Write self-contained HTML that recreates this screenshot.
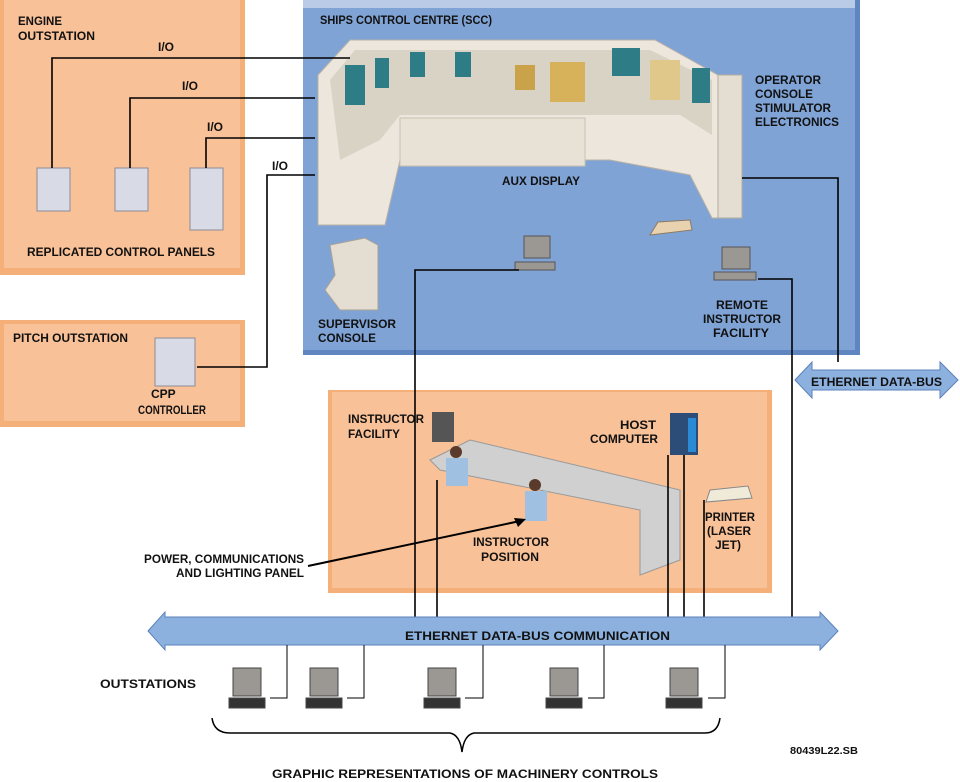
<!DOCTYPE html>
<html><head><meta charset="utf-8"><style>
body{margin:0;background:#fff}
svg{display:block}
text{font-family:"Liberation Sans",sans-serif;font-weight:bold;font-size:12px;fill:#111}
</style></head><body>
<svg width="960" height="782" viewBox="0 0 960 782">
<!-- Engine outstation -->
<rect x="0" y="0" width="245" height="275" fill="#f5b07a"/>
<rect x="4" y="0" width="236" height="268" fill="#f9c197"/>
<text x="18" y="25" textLength="44" lengthAdjust="spacingAndGlyphs">ENGINE</text><text x="18" y="40" textLength="77" lengthAdjust="spacingAndGlyphs">OUTSTATION</text>
<text x="27" y="256" textLength="188" lengthAdjust="spacingAndGlyphs">REPLICATED CONTROL PANELS</text>
<!-- Pitch -->
<rect x="0" y="320" width="245" height="107" fill="#f5b07a"/>
<rect x="4" y="324" width="236" height="97" fill="#f9c197"/>
<text x="13" y="342" textLength="115" lengthAdjust="spacingAndGlyphs">PITCH OUTSTATION</text>
<text x="151" y="398">CPP</text><text x="138" y="414" textLength="68" lengthAdjust="spacingAndGlyphs">CONTROLLER</text>
<!-- SCC -->
<rect x="303" y="0" width="557" height="355" fill="#5f86c0"/>
<rect x="303" y="0" width="552" height="350" fill="#80a3d6"/>
<rect x="303" y="0" width="552" height="8" fill="#b9cbe6"/>
<text x="320" y="24" textLength="172" lengthAdjust="spacingAndGlyphs">SHIPS CONTROL CENTRE (SCC)</text>
<text x="755" y="84" textLength="66" lengthAdjust="spacingAndGlyphs">OPERATOR</text><text x="755" y="98" textLength="58" lengthAdjust="spacingAndGlyphs">CONSOLE</text>
<text x="755" y="112" textLength="76" lengthAdjust="spacingAndGlyphs">STIMULATOR</text><text x="755" y="126" textLength="84" lengthAdjust="spacingAndGlyphs">ELECTRONICS</text>
<text x="502" y="185" textLength="78" lengthAdjust="spacingAndGlyphs">AUX DISPLAY</text>
<!-- console -->
<polygon points="318,75 350,40 655,40 718,75 742,75 742,218 712,218 690,175 610,160 400,160 385,225 318,225" fill="#ece6dc" stroke="#b9b1a6"/>
<polygon points="330,80 355,50 650,50 712,80 712,135 680,115 400,115 380,140 340,160" fill="#d9d3c6"/>
<rect x="400" y="118" width="185" height="48" fill="#e8e2d6" stroke="#c8c0b2"/>
<rect x="718" y="75" width="24" height="143" fill="#e4ddd2" stroke="#b5ad9f"/>
<rect x="345" y="65" width="20" height="40" fill="#2e7d86"/><rect x="375" y="58" width="14" height="30" fill="#2e7d86"/>
<rect x="410" y="52" width="15" height="25" fill="#2e7d86"/><rect x="455" y="52" width="16" height="25" fill="#2e7d86"/>
<rect x="612" y="48" width="28" height="28" fill="#2e7d86"/><rect x="692" y="68" width="18" height="35" fill="#2e7d86"/>
<rect x="550" y="62" width="35" height="40" fill="#d8b25a"/><rect x="515" y="65" width="20" height="25" fill="#c9a24a"/>
<rect x="650" y="60" width="30" height="40" fill="#e0c88a"/>
<!-- supervisor console -->
<polygon points="330,245 365,238 378,245 378,310 340,310 325,290 335,275" fill="#e4ddd2" stroke="#a9a196"/>
<text x="318" y="328" textLength="78" lengthAdjust="spacingAndGlyphs">SUPERVISOR</text><text x="318" y="342" textLength="58" lengthAdjust="spacingAndGlyphs">CONSOLE</text>
<text x="716" y="309" textLength="52" lengthAdjust="spacingAndGlyphs">REMOTE</text><text x="703" y="323" textLength="78" lengthAdjust="spacingAndGlyphs">INSTRUCTOR</text><text x="713" y="337" textLength="56" lengthAdjust="spacingAndGlyphs">FACILITY</text>
<!-- printer in SCC -->
<polygon points="658,222 690,220 692,230 650,235" fill="#e9d2b0" stroke="#8c7a62"/>
<!-- computers SCC -->
<g fill="#9b9894" stroke="#555">
<rect x="524" y="236" width="26" height="22"/><rect x="515" y="262" width="40" height="8"/>
<rect x="722" y="247" width="28" height="22"/><rect x="714" y="272" width="42" height="8"/>
</g>
<!-- Ethernet data-bus right -->
<polygon points="795,380 812,362 812,370 940,370 940,362 958,380 940,398 940,390 812,390 812,398" fill="#8db1de" stroke="#5a82bb"/>
<text x="811" y="386" textLength="131" lengthAdjust="spacingAndGlyphs">ETHERNET DATA-BUS</text>
<!-- Instructor room -->
<rect x="328" y="390" width="444" height="203" fill="#f5b07a"/>
<rect x="332" y="392" width="435" height="196" fill="#f9c197"/>
<text x="348" y="423" textLength="76" lengthAdjust="spacingAndGlyphs">INSTRUCTOR</text><text x="348" y="438" textLength="52" lengthAdjust="spacingAndGlyphs">FACILITY</text>
<polygon points="430,460 470,440 680,490 680,560 640,575 640,510 440,470" fill="#d0d0d0" stroke="#999"/>
<rect x="432" y="412" width="22" height="30" fill="#555"/>
<rect x="670" y="413" width="28" height="42" fill="#2c4d78"/><rect x="688" y="418" width="8" height="34" fill="#2b8ad4"/>
<polygon points="710,490 748,486 752,498 706,502" fill="#f0ead8" stroke="#888"/>
<circle cx="456" cy="452" r="6" fill="#5a3a2a"/><rect x="446" y="458" width="22" height="28" fill="#9fc0e0"/>
<circle cx="535" cy="485" r="6" fill="#5a3a2a"/><rect x="525" y="491" width="22" height="30" fill="#9fc0e0"/>
<text x="620" y="429" textLength="36" lengthAdjust="spacingAndGlyphs">HOST</text><text x="590" y="443" textLength="68" lengthAdjust="spacingAndGlyphs">COMPUTER</text>
<text x="705" y="521" textLength="50" lengthAdjust="spacingAndGlyphs">PRINTER</text><text x="707" y="535" textLength="44" lengthAdjust="spacingAndGlyphs">(LASER</text><text x="715" y="549">JET)</text>
<text x="473" y="546" textLength="76" lengthAdjust="spacingAndGlyphs">INSTRUCTOR</text><text x="481" y="561" textLength="58" lengthAdjust="spacingAndGlyphs">POSITION</text>
<!-- power label -->
<text x="144" y="563" textLength="160" lengthAdjust="spacingAndGlyphs">POWER, COMMUNICATIONS</text><text x="176" y="577" textLength="128" lengthAdjust="spacingAndGlyphs">AND LIGHTING PANEL</text>
<polyline points="308,566 520,521" fill="none" stroke="#000" stroke-width="2"/>
<polygon points="526,519 514,518 518,527" fill="#000"/>
<!-- Panels engine -->
<g fill="#d8dbe6" stroke="#8a8c98">
<rect x="37" y="168" width="33" height="43"/><rect x="115" y="168" width="33" height="43"/><rect x="190" y="168" width="33" height="62"/>
<rect x="155" y="338" width="40" height="48"/>
</g>
<!-- lines -->
<g fill="none" stroke="#000" stroke-width="1.6">
<polyline points="52,168 52,58 350,58"/>
<polyline points="130,168 130,98 315,98"/>
<polyline points="206,168 206,138 315,138"/>
<polyline points="197,367 267,367 267,175 315,175"/>
<polyline points="519,270 415,270 415,617"/>
<polyline points="742,178 838,178 838,362"/>
<polyline points="758,279 792,279 792,617"/>
<polyline points="437,480 437,617"/>
<polyline points="668,455 668,617"/>
<polyline points="684,455 684,617"/>
<polyline points="704,500 704,617"/>
</g>
<text x="158" y="51">I/O</text><text x="182" y="90">I/O</text><text x="207" y="131">I/O</text><text x="272" y="170">I/O</text>
<!-- Bus -->
<polygon points="148,631 165,612 165,617 820,617 820,612 838,631 820,650 820,645 165,645 165,650" fill="#8db1de" stroke="#5a82bb"/>
<text x="405" y="640" textLength="265" lengthAdjust="spacingAndGlyphs">ETHERNET DATA-BUS COMMUNICATION</text>
<text x="100" y="688" textLength="96" lengthAdjust="spacingAndGlyphs">OUTSTATIONS</text>
<g fill="none" stroke="#000" stroke-width="1">
<polyline points="270,698 287,698 287,645"/><polyline points="347,698 364,698 364,645"/>
<polyline points="465,698 483,698 483,645"/><polyline points="588,698 604,698 604,645"/>
<polyline points="708,698 725,698 725,645"/>
<path d="M212,718 Q214,733 230,733 L450,733 Q460,735 462,752 Q464,735 474,733 L705,733 Q718,733 720,718" stroke-width="1.5"/>
</g>
<g fill="#9b9894" stroke="#444">
<rect x="233" y="668" width="28" height="28"/><rect x="229" y="698" width="36" height="10" fill="#333"/>
<rect x="310" y="668" width="28" height="28"/><rect x="306" y="698" width="36" height="10" fill="#333"/>
<rect x="428" y="668" width="28" height="28"/><rect x="424" y="698" width="36" height="10" fill="#333"/>
<rect x="550" y="668" width="28" height="28"/><rect x="546" y="698" width="36" height="10" fill="#333"/>
<rect x="670" y="668" width="28" height="28"/><rect x="666" y="698" width="36" height="10" fill="#333"/>
</g>
<text x="790" y="754" style="font-size:10px" textLength="68" lengthAdjust="spacingAndGlyphs">80439L22.SB</text>
<text x="272" y="778" textLength="386" lengthAdjust="spacingAndGlyphs">GRAPHIC REPRESENTATIONS OF MACHINERY CONTROLS</text>
</svg>
</body></html>
